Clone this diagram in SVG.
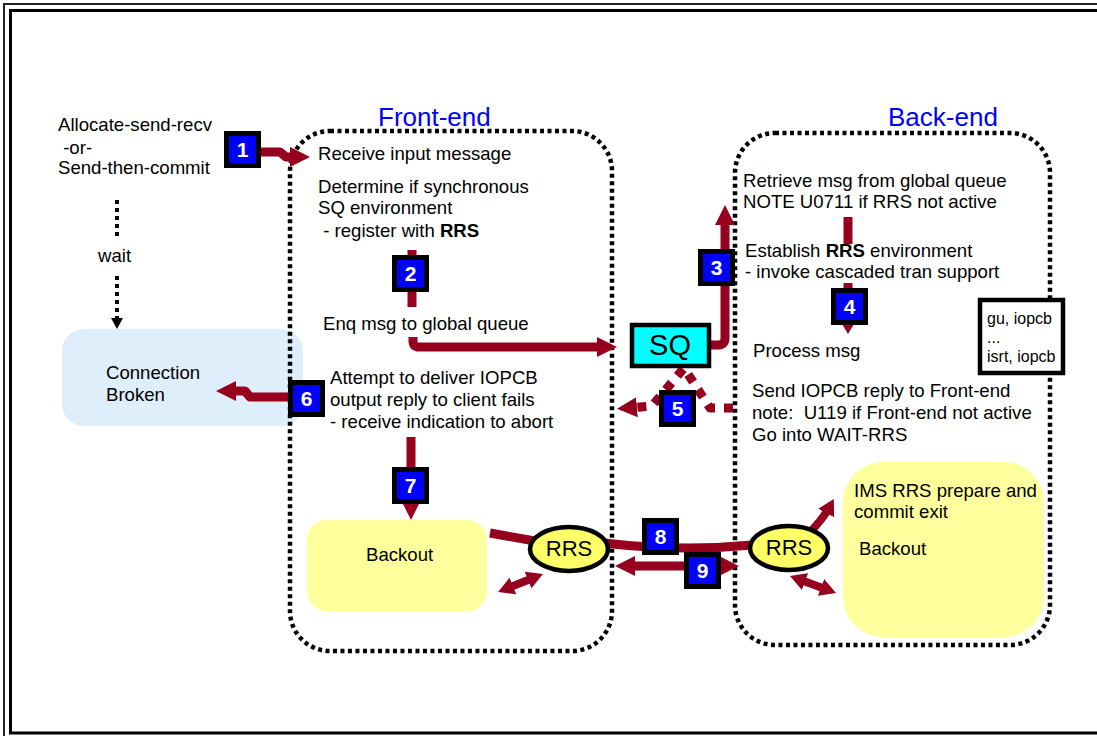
<svg xmlns="http://www.w3.org/2000/svg" width="1097" height="736" viewBox="0 0 1097 736">
<style>
.t{font-family:"Liberation Sans",Arial,sans-serif;font-size:18.6px;fill:#000}
.lbl{font-family:"Liberation Sans",Arial,sans-serif;font-size:26px;fill:#0000FF}
.num{font-family:"Liberation Sans",Arial,sans-serif;font-size:21px;font-weight:bold;fill:#fff;text-anchor:middle}
.nb{fill:#0000FF;stroke:#000;stroke-width:5}
.dot{fill:none;stroke:#000;stroke-width:4.5;stroke-dasharray:4 3.5}
.red{fill:none;stroke:#96001E;stroke-width:9;stroke-linejoin:round}
.redS{fill:none;stroke:#96001E;stroke-width:8}
.ell{fill:#FFFF66;stroke:#000;stroke-width:4.5}
.yel{fill:#FFFF9E}
</style>
<defs>
<marker id="ah" markerUnits="userSpaceOnUse" viewBox="0 0 20 20" markerWidth="20" markerHeight="20" refX="10" refY="10" orient="auto-start-reverse"><path d="M0,0 L20,10 L0,20 z" fill="#96001E"/></marker>
<marker id="ahs" markerUnits="userSpaceOnUse" viewBox="0 0 16 18" markerWidth="16" markerHeight="18" refX="8" refY="9" orient="auto-start-reverse"><path d="M0,0 L16,9 L0,18 z" fill="#96001E"/></marker>
</defs>
<rect width="1097" height="736" fill="#fff"/>
<rect x="4" y="4" width="1110" height="745" fill="none" stroke="#222" stroke-width="2"/>
<rect x="10.5" y="10.5" width="1100" height="722.5" fill="none" stroke="#000" stroke-width="3"/>

<g id="connection-broken">
<rect x="62" y="329" width="241" height="97" rx="22" fill="#DEEEFB"/>
<text class="t" x="106" y="379">Connection</text>
<text class="t" x="106" y="401">Broken</text>
</g>
<g id="backout-front">
<rect class="yel" x="307" y="520" width="180" height="91" rx="20"/>
<text class="t" x="366" y="561">Backout</text>
</g>
<g id="backout-back">
<rect class="yel" x="843" y="462" width="201" height="175" rx="40"/>
<text class="t" x="854" y="497">IMS RRS prepare and</text>
<text class="t" x="854" y="518">commit exit</text>
<text class="t" x="859" y="555">Backout</text>
</g>

<g id="front-end">
<rect class="dot" x="290" y="131" width="322" height="520" rx="40"/>
<text class="lbl" x="378" y="126">Front-end</text>
<text class="t" x="318" y="160">Receive input message</text>
<text class="t" x="318" y="193">Determine if synchronous</text>
<text class="t" x="318" y="214">SQ environment</text>
<text class="t" x="318" y="237" xml:space="preserve"> - register with <tspan font-weight="bold">RRS</tspan></text>
<text class="t" x="323" y="330">Enq msg to global queue</text>
<text class="t" x="330" y="384">Attempt to deliver IOPCB</text>
<text class="t" x="330" y="406">output reply to client fails</text>
<text class="t" x="330" y="428">- receive indication to abort</text>
</g>
<g id="back-end">
<rect class="dot" x="735" y="133" width="315" height="512" rx="40"/>
<text class="lbl" x="888" y="126">Back-end</text>
<text class="t" x="743" y="187">Retrieve msg from global queue</text>
<text class="t" x="743" y="208">NOTE U0711 if RRS not active</text>
<text class="t" x="745" y="257">Establish <tspan font-weight="bold">RRS</tspan> environment</text>
<text class="t" x="745" y="278">- invoke cascaded tran support</text>
<text class="t" x="753" y="357">Process msg</text>
<text class="t" x="752" y="397">Send IOPCB reply to Front-end</text>
<text class="t" x="752" y="419" xml:space="preserve">note:  U119 if Front-end not active</text>
<text class="t" x="752" y="441">Go into WAIT-RRS</text>
</g>
<g id="client">
<text class="t" x="58" y="131">Allocate-send-recv</text>
<text class="t" x="58" y="154" xml:space="preserve"> -or-</text>
<text class="t" x="58" y="174">Send-then-commit</text>
<text class="t" x="98" y="262">wait</text>
</g>
<g id="gu-box">
<rect x="980" y="300" width="83" height="73" fill="#fff" stroke="#000" stroke-width="4.5"/>
<text class="t" style="font-size:16px" x="987" y="324">gu, iopcb</text>
<text class="t" style="font-size:16px" x="987" y="343">...</text>
<text class="t" style="font-size:16px" x="987" y="362">isrt, iopcb</text>
</g>

<g id="connectors">
<path d="M117,200 L117,240 M117,276 L117,318" fill="none" stroke="#000" stroke-width="4" stroke-dasharray="4 4"/>
<polygon points="111,318 123,318 117,329" fill="#000"/>
<path class="red" d="M261,152 L280,152 L286,157 L300,157" marker-end="url(#ah)"/>
<path class="red" d="M412,250 L412,307"/>
<path class="red" d="M413,337 L413,341 Q413,347 419,347 L607,347" marker-end="url(#ah)"/>
<path class="red" d="M710,345 L718,345 Q725,345 725,338 L725,215" marker-end="url(#ah)"/>
<path class="red" d="M848,217 L848,244"/>
<path class="red" d="M848,283 L848,326"/>
<polygon points="842,324 854,324 848,334" fill="#96001E"/>
<path class="red" d="M733,408 L710,408 L684,368 L652,406 L627,408" stroke-dasharray="9 9" stroke-linejoin="miter" marker-end="url(#ah)"/>
<path class="red" d="M288,397 L250,397 L245,391 L226,391" marker-end="url(#ah)"/>
<path class="red" d="M411,437 L411,510" marker-end="url(#ah)"/>
<path class="red" d="M490,533 L535,541"/>
<path class="red" d="M604,543 Q680,552 752,545"/>
<path class="red" d="M625,566 L729,566" marker-start="url(#ah)" marker-end="url(#ah)"/>
<path class="redS" d="M505.5,589 L535.5,577" marker-start="url(#ahs)" marker-end="url(#ahs)"/>
<path class="redS" d="M797.5,578.8 L828.5,590.2" marker-start="url(#ahs)" marker-end="url(#ahs)"/>
<path class="redS" d="M810,532 Q823,519 830,506" marker-end="url(#ahs)"/>
</g>

<g id="sq">
<rect x="632" y="325" width="77" height="41" fill="#00FFFF" stroke="#000" stroke-width="4.5"/>
<text x="670" y="355" text-anchor="middle" style="font-family:'Liberation Sans',Arial,sans-serif;font-size:29px">SQ</text>
</g>
<g id="rrs-left">
<ellipse class="ell" cx="569" cy="549" rx="39" ry="22"/>
<text x="569" y="556" text-anchor="middle" style="font-family:'Liberation Sans',Arial,sans-serif;font-size:22px">RRS</text>
</g>
<g id="rrs-right">
<ellipse class="ell" cx="789" cy="548" rx="39" ry="22"/>
<text x="789" y="555" text-anchor="middle" style="font-family:'Liberation Sans',Arial,sans-serif;font-size:22px">RRS</text>
</g>

<g id="n1"><rect class="nb" x="226.5" y="133.5" width="32" height="32"/><text class="num" x="242.5" y="157">1</text></g>
<g id="n2"><rect class="nb" x="394.5" y="257.5" width="32" height="32"/><text class="num" x="410.5" y="281">2</text></g>
<g id="n3"><rect class="nb" x="700.5" y="251.5" width="32" height="32"/><text class="num" x="716.5" y="275">3</text></g>
<g id="n4"><rect class="nb" x="833.5" y="290.5" width="32" height="32"/><text class="num" x="849.5" y="314">4</text></g>
<g id="n5"><rect class="nb" x="661.5" y="392.5" width="32" height="32"/><text class="num" x="677.5" y="416">5</text></g>
<g id="n6"><rect class="nb" x="290.5" y="382.5" width="32" height="32"/><text class="num" x="306.5" y="406">6</text></g>
<g id="n7"><rect class="nb" x="394.5" y="469.5" width="32" height="32"/><text class="num" x="410.5" y="493">7</text></g>
<g id="n8"><rect class="nb" x="644.5" y="520.5" width="32" height="32"/><text class="num" x="660.5" y="544">8</text></g>
<g id="n9"><rect class="nb" x="686.5" y="554.5" width="32" height="32"/><text class="num" x="702.5" y="578">9</text></g>
</svg>
